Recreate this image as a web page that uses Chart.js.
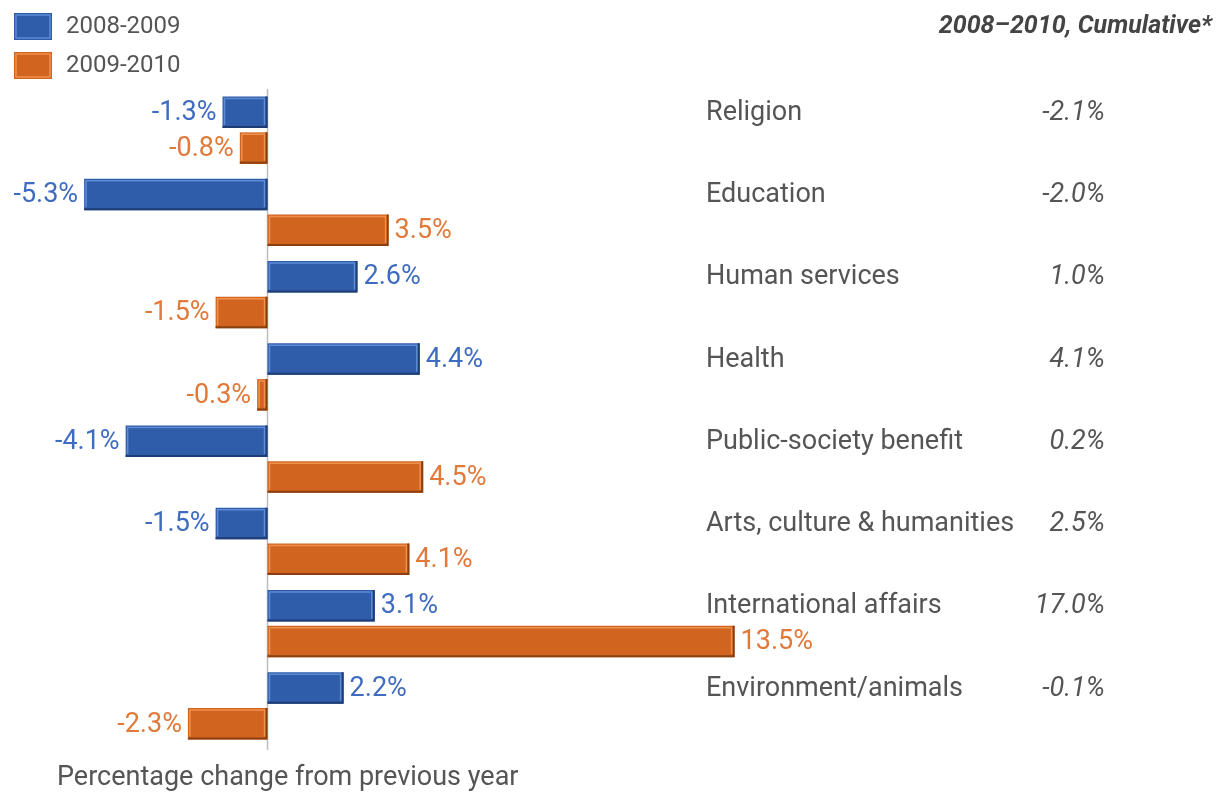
<!DOCTYPE html>
<html>
<head>
<meta charset="utf-8">
<script src="https://cdn.jsdelivr.net/npm/chart.js@4"></script>
<style>
  html, body { margin: 0; padding: 0; background: #fff; }
  #chart { display: block; }
</style>
</head>
<body>
<canvas id="chart" width="1226" height="795"></canvas>
<script>
const categories = [
    "Religion",
    "Education",
    "Human services",
    "Health",
    "Public-society benefit",
    "Arts, culture & humanities",
    "International affairs",
    "Environment/animals"
];
const series1 = [-1.3, -5.3, 2.6, 4.4, -4.1, -1.5, 3.1, 2.2];
const series2 = [-0.8, 3.5, -1.5, -0.3, 4.5, 4.1, 13.5, -2.3];
const cumulative = ["-2.1%", "-2.0%", "1.0%", "4.1%", "0.2%", "2.5%", "17.0%", "-0.1%"];
const seriesNames = ["2008-2009", "2009-2010"];

const FONT = "Roboto, 'Noto Sans', sans-serif";
const TEXT = "#555";

const fills = ["#2F5DAA", "#D1651F"];
const lights = ["#5E8BD6", "#F0904E"];
const darks = ["#1E3D74", "#8A3F10"];
const labelColors = ["#3F6CC1", "#E0793A"];

// bar edges: lighter top/left, darker bottom/right
const bevel = {
    id: "bevel",
    afterDatasetsDraw(chart) {
        const ctx = chart.ctx;
        chart.data.datasets.forEach((ds, di) => {
            chart.getDatasetMeta(di).data.forEach(bar => {
                const x0 = Math.min(bar.base, bar.x), x1 = Math.max(bar.base, bar.x);
                const y0 = bar.y - bar.height / 2, y1 = bar.y + bar.height / 2;
                ctx.save();
                ctx.lineWidth = 2;
                ctx.strokeStyle = darks[di];
                ctx.beginPath();
                ctx.moveTo(x0, y1 - 1); ctx.lineTo(x1 - 1, y1 - 1); ctx.lineTo(x1 - 1, y0);
                ctx.stroke();
                ctx.lineWidth = 1.5;
                ctx.strokeStyle = lights[di];
                ctx.beginPath();
                ctx.moveTo(x0 + 2, y1 - 3); ctx.lineTo(x0 + 2, y0 + 2); ctx.lineTo(x1 - 3, y0 + 2); ctx.lineTo(x1 - 3, y1 - 3);
                ctx.stroke();
                ctx.restore();
            });
        });
    }
};

const extras = {
    id: "extras",
    beforeDatasetsDraw(chart) {
        const ctx = chart.ctx, a = chart.chartArea;
        const x0 = chart.scales.x.getPixelForValue(0);
        ctx.save();
        ctx.strokeStyle = "#bdbdbd";
        ctx.lineWidth = 1.5;
        ctx.beginPath();
        ctx.moveTo(x0, a.top);
        ctx.lineTo(x0, a.bottom + 3);
        ctx.stroke();
        ctx.restore();
    },
    afterDraw(chart) {
        const ctx = chart.ctx;
        ctx.save();
        ctx.textBaseline = "middle";

        // value labels
        ctx.font = "27px " + FONT;
        chart.data.datasets.forEach((ds, di) => {
            ctx.fillStyle = labelColors[di];
            chart.getDatasetMeta(di).data.forEach((bar, i) => {
                const v = ds.data[i];
                const txt = v.toFixed(1) + "%";
                if (v >= 0) {
                    ctx.textAlign = "left";
                    ctx.fillText(txt, bar.x + 6, bar.y + 1);
                } else {
                    ctx.textAlign = "right";
                    ctx.fillText(txt, bar.x - 6, bar.y + 1);
                }
            });
        });

        // category names and cumulative values, level with the first series
        const meta = chart.getDatasetMeta(0);
        ctx.fillStyle = TEXT;
        categories.forEach((c, i) => {
            const y = meta.data[i].y + 1;
            ctx.font = "27px " + FONT;
            ctx.textAlign = "left";
            ctx.fillText(c, 706, y);
            ctx.font = "italic 27px " + FONT;
            ctx.textAlign = "right";
            ctx.fillText(cumulative[i], 1105, y);
        });

        ctx.font = "italic bold 25px " + FONT;
        ctx.fillStyle = "#444";
        ctx.textAlign = "right";
        ctx.fillText("2008\u20132010, Cumulative*", 1212, 27);

        // legend
        seriesNames.forEach((n, i) => {
            const y = 13 + i * 39;
            ctx.fillStyle = fills[i];
            ctx.fillRect(14, y, 38, 27);
            ctx.strokeStyle = lights[i];
            ctx.lineWidth = 1.5;
            ctx.strokeRect(16, y + 2, 34, 23);
            ctx.fillStyle = TEXT;
            ctx.font = "24px " + FONT;
            ctx.textAlign = "left";
            ctx.fillText(n, 66, y + 14);
        });

        ctx.font = "27px " + FONT;
        ctx.fillStyle = TEXT;
        ctx.textAlign = "left";
        ctx.fillText("Percentage change from previous year", 57, 778);
        ctx.restore();
    }
};

new Chart("chart", {
    type: "bar",
    data: {
        labels: categories,
        datasets: [{
            label: seriesNames[0],
            data: series1,
            backgroundColor: fills[0]
        }, {
            label: seriesNames[1],
            data: series2,
            backgroundColor: fills[1]
        }]
    },
    options: {
        indexAxis: "y",
        responsive: false,
        animation: false,
        layout: { padding: { left: 8, right: 7, top: 89, bottom: 48 } },
        datasets: {
            bar: { categoryPercentage: 0.875, barPercentage: 0.875, borderWidth: 0 }
        },
        scales: {
            x: { display: false, min: -7.5, max: 27.5 },
            y: { display: false }
        },
        plugins: {
            legend: { display: false },
            tooltip: { enabled: false }
        }
    },
    plugins: [extras, bevel]
});
</script>
</body>
</html>
